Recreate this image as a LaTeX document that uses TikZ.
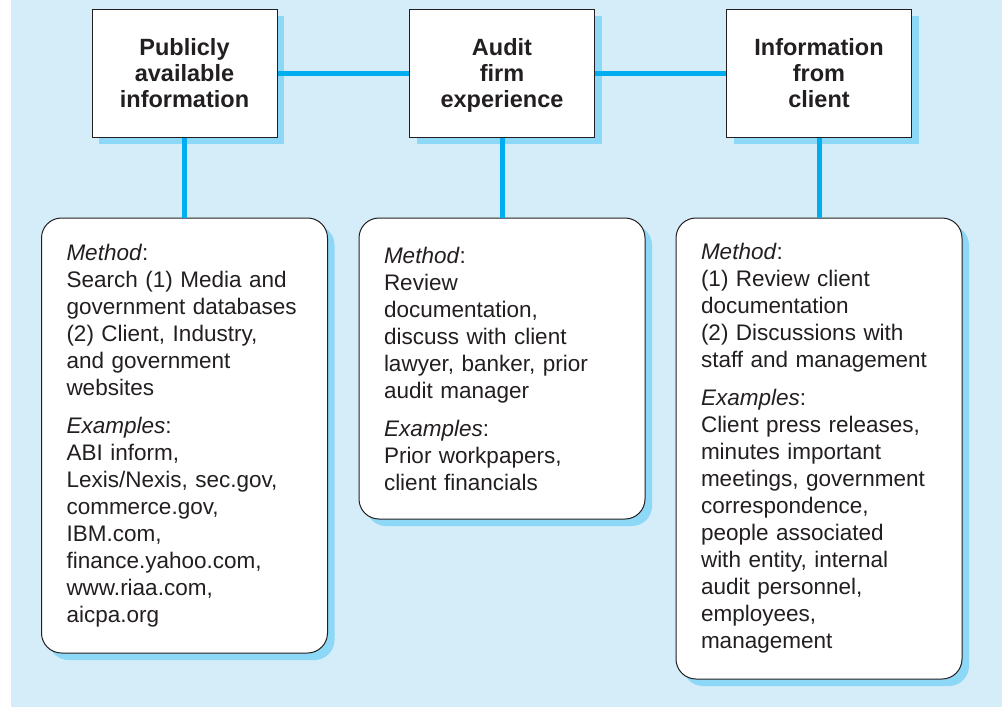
\documentclass[tikz,border=0pt]{standalone}
\usepackage{fontspec}
\setmainfont{Liberation Sans}
\usepackage{xcolor}
\usepackage{tikz}
\usetikzlibrary{shapes.geometric, shadows, positioning}
\definecolor{bgblue}{HTML}{D5ECF9}
\definecolor{lineblue}{HTML}{00AEEF}
\definecolor{shadeblue}{HTML}{8DD8F7}
\definecolor{inkgray}{HTML}{231F20}
\tikzstyle{link} = [line width=5pt, lineblue]
\tikzstyle{source} = [rectangle, draw=inkgray, line width=1pt, fill=white, minimum width=185pt, minimum height=128pt, align=center, font=\fontsize{23.5}{26}\selectfont\bfseries, drop shadow={shadow xshift=7pt, shadow yshift=-7pt, fill=shadeblue, opacity=1}]
\tikzstyle{detail} = [rectangle, draw=inkgray, line width=1pt, fill=white, rounded corners=20pt, text width=236pt, inner xsep=25pt, align=left, font=\fontsize{22.5}{27}\selectfont, drop shadow={shadow xshift=7pt, shadow yshift=-7pt, fill=shadeblue, opacity=1}]
\tikzset{every node/.style={text=inkgray}}

\begin{document}
\begin{tikzpicture}[x=1pt, y=-1pt, node distance=80pt]
    \useasboundingbox (0,0) rectangle (1002,707);
    \fill [bgblue] (11,0) rectangle (1002,707);

    \node (public) [source] at (184.5,73) {Publicly\\available\\information};
    \node (firm) [source] at (502,73) {Audit\\firm\\\smash{experience}};
    \node (client) [source] at (819,73) {Information\\from\\client};

    \node (publicbox) [detail, minimum height=435pt, below=of public] {\textit{Method}:\\Search (1) Media and\\government databases\\(2) Client, Industry,\\and government\\websites\\[11pt]\textit{Examples}:\\ABI inform,\\Lexis/Nexis, sec.gov,\\commerce.gov,\\IBM.com,\\finance.yahoo.com,\\www.riaa.com,\\aicpa.org};
    \node (firmbox) [detail, minimum height=301pt, below=of firm] {\textit{Method}:\\Review\\documentation,\\discuss with client\\lawyer, banker, prior\\audit manager\\[11pt]\textit{Examples}:\\Prior workpapers,\\client financials};
    \node (clientbox) [detail, minimum height=461pt, below=of client] {\textit{Method}:\\(1) Review client\\documentation\\(2) Discussions with\\staff and management\\[11pt]\textit{Examples}:\\Client press releases,\\minutes important\\meetings, government\\correspondence,\\people associated\\with entity, internal\\audit personnel,\\employees,\\management};

    \draw [link] (public) -- (firm);
    \draw [link] (firm) -- (client);
    \draw [link] (public) -- (publicbox);
    \draw [link] (firm) -- (firmbox);
    \draw [link] (client) -- (clientbox);
\end{tikzpicture}
\end{document}
